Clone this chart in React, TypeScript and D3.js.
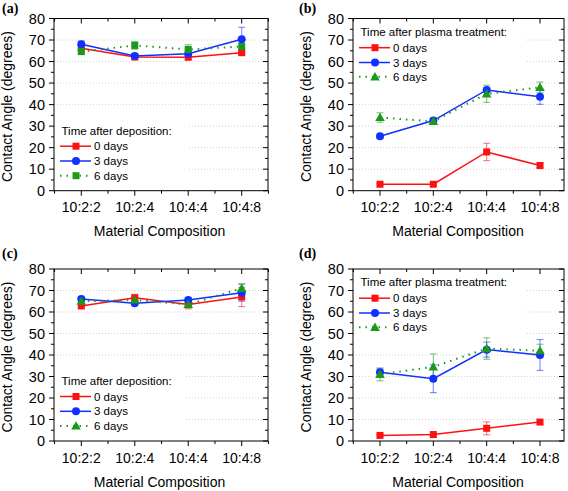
import React from "react";
import { scaleLinear, line as d3line, range as d3range } from "d3";

const categories = ["10:2:2", "10:2:4", "10:4:4", "10:4:8"];
const yTicks = [0, 10, 20, 30, 40, 50, 60, 70, 80];
const seriesNames = ["0 days", "3 days", "6 days"];

// Panel (a)
const a0 = [66.2, 62.1, 62.0, 64.1];
const a0Err = [1.0, 1.0, 1.2, 1.0];
const a3 = [68.0, 62.6, 63.6, 70.4];
const a3Err = [1.5, 1.0, 1.2, 5.5];
const a6 = [64.6, 67.5, 65.6, 67.0];
const a6Err = [1.2, 1.8, 2.2, 1.5];

// Panel (b)
const b0 = [3.0, 3.0, 18.0, 11.7];
const b0Err = [0.5, 0.5, 4.0, 1.0];
const b3 = [25.3, 32.6, 46.8, 43.6];
const b3Err = [1.0, 1.0, 1.0, 3.5];
const b6 = [34.0, 32.2, 45.0, 48.0];
const b6Err = [2.2, 1.0, 4.0, 2.5];

// Panel (c)
const c0 = [62.8, 66.6, 63.5, 67.0];
const c0Err = [1.0, 1.6, 2.0, 4.5];
const c3 = [66.0, 64.1, 65.6, 69.0];
const c3Err = [1.0, 1.0, 1.0, 4.0];
const c6 = [65.0, 65.6, 63.5, 71.0];
const c6Err = [1.5, 1.5, 1.5, 2.0];

// Panel (d)
const d0 = [2.6, 3.0, 5.9, 8.8];
const d0Err = [0.5, 0.5, 3.0, 1.0];
const d3v = [32.0, 29.0, 42.5, 40.0];
const d3Err = [1.5, 6.5, 3.5, 7.2];
const d6 = [31.0, 34.5, 43.0, 42.0];
const d6Err = [3.0, 6.0, 5.0, 3.0];

const COLORS = ["#ff1010", "#1030ff", "#1a9a1a"];
const FONT = "'Liberation Sans', Arial, Helvetica, sans-serif";

type PanelDef = {
  label: string;
  legendTitle: string;
  legendPos: "bottom" | "top";
  greenMarker: "square" | "triangle";
  series: { v: number[]; e: number[] }[];
  left: number;
  right: number;
  x1: number;
  x4: number;
  top: number;
  bottom: number;
  legendRight: number;
  labelX: number;
  labelY: number;
  yTitleX: number;
};

const panels: PanelDef[] = [
  {
    label: "(a)", legendTitle: "Time after deposition:", legendPos: "bottom", greenMarker: "square",
    series: [{ v: a0, e: a0Err }, { v: a3, e: a3Err }, { v: a6, e: a6Err }],
    left: 54, right: 268, x1: 81.3, x4: 241.7, top: 18.5, bottom: 190.7, legendRight: 188,
    labelX: 2, labelY: 13, yTitleX: 12,
  },
  {
    label: "(b)", legendTitle: "Time after plasma treatment:", legendPos: "top", greenMarker: "triangle",
    series: [{ v: b0, e: b0Err }, { v: b3, e: b3Err }, { v: b6, e: b6Err }],
    left: 353, right: 564, x1: 380, x4: 540, top: 18.5, bottom: 190.7, legendRight: 526,
    labelX: 299, labelY: 13, yTitleX: 311,
  },
  {
    label: "(c)", legendTitle: "Time after deposition:", legendPos: "bottom", greenMarker: "triangle",
    series: [{ v: c0, e: c0Err }, { v: c3, e: c3Err }, { v: c6, e: c6Err }],
    left: 54, right: 268, x1: 81.3, x4: 241.7, top: 269, bottom: 441, legendRight: 185,
    labelX: 2, labelY: 258, yTitleX: 12,
  },
  {
    label: "(d)", legendTitle: "Time after plasma treatment:", legendPos: "top", greenMarker: "triangle",
    series: [{ v: d0, e: d0Err }, { v: d3v, e: d3Err }, { v: d6, e: d6Err }],
    left: 353, right: 564, x1: 380, x4: 540, top: 269, bottom: 441, legendRight: 526,
    labelX: 299, labelY: 258, yTitleX: 311,
  },
];

function Marker({ kind, x, y, color }: { kind: string; x: number; y: number; color: string }) {
  if (kind === "square") return <rect x={x - 3.5} y={y - 3.5} width={7} height={7} fill={color} />;
  if (kind === "circle") return <circle cx={x} cy={y} r={4} fill={color} />;
  const s = 4.8;
  return <path d={`M${x},${y - s}L${x + s},${y + s * 0.75}L${x - s},${y + s * 0.75}Z`} fill={color} />;
}

function Panel({ p }: { p: PanelDef }) {
  const x = scaleLinear().domain([1, 4]).range([p.x1, p.x4]);
  const y = scaleLinear().domain([0, 80]).range([p.bottom, p.top]);
  const majorX = categories.map((_, i) => x(i + 1));
  const minorX = d3range(0.5, 4.6, 1).map((v) => x(v)).filter((v) => v >= p.left - 0.5 && v <= p.right + 0.5);
  const minorY = d3range(5, 80, 10).map((v) => y(v));
  const markers = ["square", "circle", p.greenMarker];
  const line = d3line<number>().x((_, i) => x(i + 1)).y((d) => y(d));

  const legendBox =
    p.legendPos === "bottom"
      ? { x0: p.left + 1, y0: p.bottom - 78, x1: p.legendRight, y1: p.bottom - 1 }
      : { x0: p.left + 1, y0: p.top + 1, x1: p.legendRight, y1: p.top + 70 };
  const titleY = p.legendPos === "bottom" ? p.bottom - 56 : p.top + 17.3;
  const rowYs = p.legendPos === "bottom"
    ? [p.bottom - 44.5, p.bottom - 29.7, p.bottom - 15]
    : [p.top + 29.2, p.top + 44, p.top + 58.3];
  const lx0 = p.left + 6;
  const lx1 = p.left + 37;
  const lm = p.left + 22;

  return (
    <g>
      {yTicks.filter((t) => t > 0 && t < 80).map((t) => (
        <line key={t} x1={p.left} x2={p.right} y1={y(t)} y2={y(t)} stroke="#c8c8c8" strokeWidth={0.8} strokeDasharray="1,2" />
      ))}
      <rect x={legendBox.x0} y={legendBox.y0} width={legendBox.x1 - legendBox.x0} height={legendBox.y1 - legendBox.y0} fill="#fff" />
      <rect x={p.left} y={p.top} width={p.right - p.left} height={p.bottom - p.top} fill="none" stroke="#000" strokeWidth={1} />
      {majorX.map((v, i) => (
        <g key={"mx" + i}>
          <line x1={v} x2={v} y1={p.bottom} y2={p.bottom + 5} stroke="#000" />
          <line x1={v} x2={v} y1={p.top} y2={p.top + 5} stroke="#000" />
        </g>
      ))}
      {minorX.map((v, i) => (
        <g key={"nx" + i}>
          <line x1={v} x2={v} y1={p.bottom} y2={p.bottom + 3} stroke="#000" />
          <line x1={v} x2={v} y1={p.top} y2={p.top + 3} stroke="#000" />
        </g>
      ))}
      {yTicks.map((t) => (
        <g key={"my" + t}>
          <line x1={p.left - 5} x2={p.left} y1={y(t)} y2={y(t)} stroke="#000" />
          <line x1={p.right - 5} x2={p.right} y1={y(t)} y2={y(t)} stroke="#000" />
        </g>
      ))}
      {minorY.map((v, i) => (
        <g key={"ny" + i}>
          <line x1={p.left - 3} x2={p.left} y1={v} y2={v} stroke="#000" />
          <line x1={p.right - 3} x2={p.right} y1={v} y2={v} stroke="#000" />
        </g>
      ))}
      {yTicks.map((t) => (
        <text key={"yl" + t} x={p.left - 9} y={y(t)} dy="0.36em" textAnchor="end" fontSize={14.5} fontFamily={FONT}>{t}</text>
      ))}
      {categories.map((c, i) => (
        <text key={"xl" + c} x={x(i + 1)} y={p.bottom + 21.5} textAnchor="middle" fontSize={14} fontFamily={FONT}>{c}</text>
      ))}
      <text x={(p.x1 + p.x4) / 2 - 2} y={p.bottom + 45.5} textAnchor="middle" fontSize={14} fontFamily={FONT}>Material Composition</text>
      <text transform={`translate(${p.yTitleX},${(p.top + p.bottom) / 2 + 2}) rotate(-90)`} textAnchor="middle" fontSize={14} fontFamily={FONT}>Contact Angle (degrees)</text>
      <text x={p.labelX} y={p.labelY} fontSize={14} fontWeight="bold" fontFamily="'Liberation Serif', 'Times New Roman', serif">{p.label}</text>
      {p.series.map((s, si) => (
        <g key={"eb" + si} stroke={COLORS[si]} strokeOpacity={0.5} strokeWidth={1.2}>
          {s.v.map((v, i) => {
            const cx = x(i + 1);
            const hi = y(v + s.e[i]);
            const lo = y(v - s.e[i]);
            return (
              <g key={i}>
                <line x1={cx} x2={cx} y1={hi} y2={lo} />
                <line x1={cx - 3.5} x2={cx + 3.5} y1={hi} y2={hi} />
                <line x1={cx - 3.5} x2={cx + 3.5} y1={lo} y2={lo} />
              </g>
            );
          })}
        </g>
      ))}
      {p.series.map((s, si) => (
        <g key={"ln" + si}>
          <path d={line(s.v) || ""} fill="none" stroke={COLORS[si]} strokeWidth={si === 2 ? 2 : 1.5}
            strokeDasharray={si === 2 ? "1.5,5" : undefined} />
          {s.v.map((v, i) => (
            <Marker key={i} kind={markers[si]} x={x(i + 1)} y={y(v)} color={COLORS[si]} />
          ))}
        </g>
      ))}
      <text x={p.left + 7.5} y={titleY} fontSize={11.5} fontFamily={FONT}>{p.legendTitle}</text>
      {seriesNames.map((n, si) => (
        <g key={"lg" + si}>
          <line x1={lx0} x2={lx1} y1={rowYs[si]} y2={rowYs[si]} stroke={COLORS[si]} strokeWidth={si === 2 ? 2 : 1.5}
            strokeDasharray={si === 2 ? "1.5,5" : undefined} />
          <Marker kind={markers[si]} x={lm} y={rowYs[si]} color={COLORS[si]} />
          <text x={p.left + 40} y={rowYs[si] + 4} fontSize={11.5} fontFamily={FONT}>{n}</text>
        </g>
      ))}
    </g>
  );
}

export default function App() {
  return (
    <svg width={568} height={491} style={{ position: "absolute", left: 0, top: 0, background: "#fff" }}>
      <rect width={568} height={491} fill="#fff" />
      {panels.map((p) => (
        <Panel key={p.label} p={p} />
      ))}
    </svg>
  );
}
